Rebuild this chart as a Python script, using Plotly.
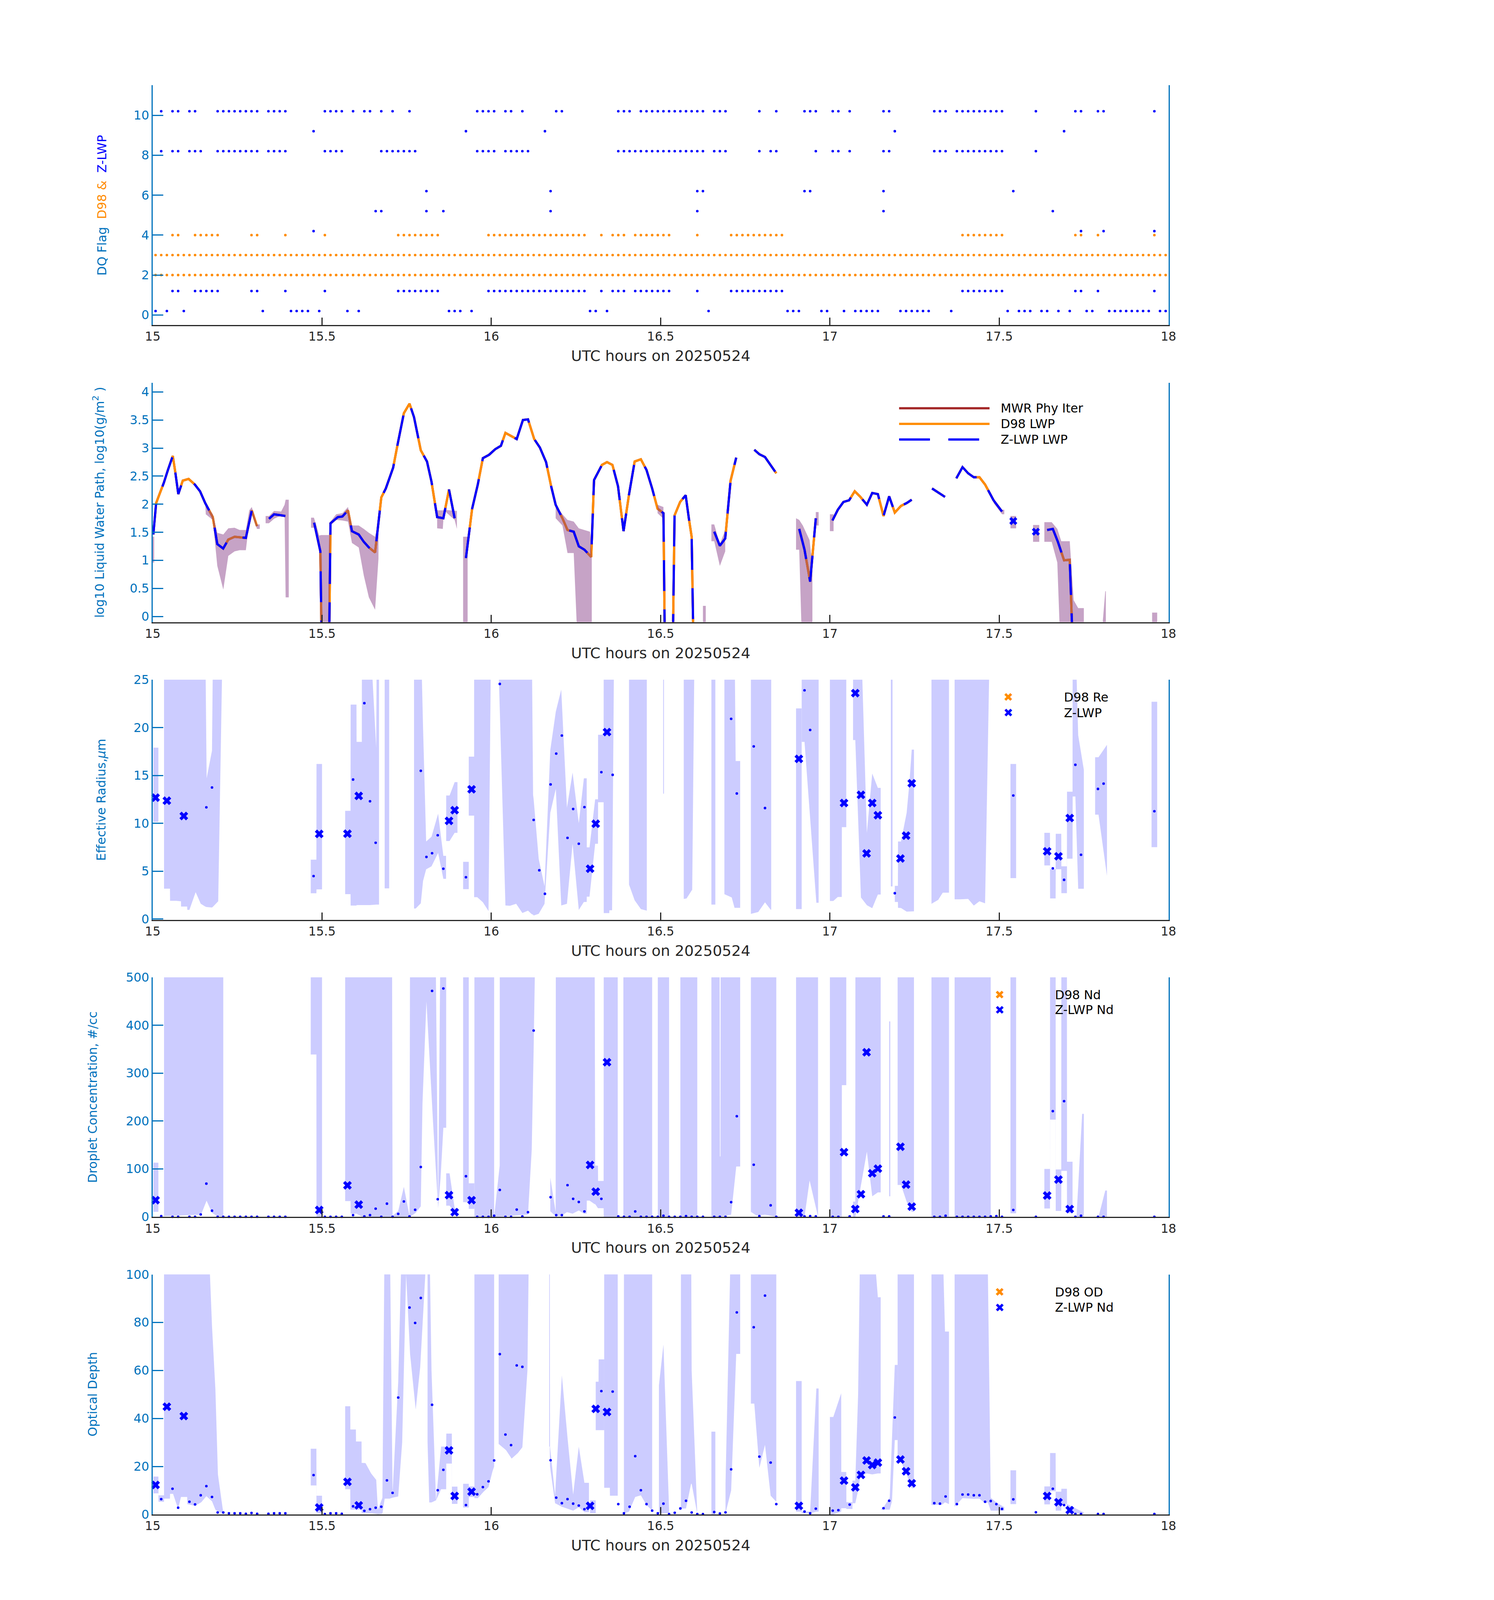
import plotly.graph_objects as go

T0 = 15.0  # start hour (UTC) of the 20250524 window
W, H = 3825, 6000

# ================= Panel 1 : DQ flags (one-minute sample indices, t = 15 + (i+0.5)/60) =================
n_samples = 180
zlwp_flag10 = [1,3,4,6,7,11,12,13,14,15,16,17,18,20,21,22,23,30,31,32,33,35,37,38,40,42,45,57,58,59,60,62,63,65,71,72,
               82,83,84,86,87,88,89,90,91,92,93,94,95,96,97,99,100,101,107,110,115,116,117,120,121,123,129,130,
               138,139,140,142,143,144,145,146,147,148,149,150,156,163,164,167,168,177]
zlwp_flag9 = [28,55,69,131,161]
zlwp_flag8 = [1,3,4,6,7,8,11,12,13,14,15,16,17,18,20,21,22,23,30,31,32,33,40,41,42,43,44,45,46,57,58,59,60,62,63,64,65,66,
              82,83,84,85,86,87,88,89,90,91,92,93,94,95,96,97,99,100,101,107,109,110,117,120,121,123,129,130,
              138,139,140,142,143,144,145,146,147,148,149,150,156]
zlwp_flag6 = [48,70,96,97,115,116,129,152]
zlwp_flag5 = [39,40,48,51,70,96,129,159]
zlwp_flag4 = [28,164,168,177]
zlwp_flag1 = [3,4,7,8,9,10,11,17,18,23,30,43,44,45,46,47,48,49,50,59,60,61,62,63,64,65,66,67,68,69,70,71,72,73,74,75,76,
              79,81,82,83,85,86,87,88,89,90,91,96,102,103,104,105,106,107,108,109,110,111,143,144,145,146,147,148,149,150,
              163,164,167,177]
zlwp_flag0 = [0,2,5,19,24,25,26,27,29,34,36,52,53,54,56,77,78,80,98,112,113,114,118,119,122,124,125,126,127,128,
              132,133,134,135,136,137,141,151,153,154,155,157,158,160,162,165,166,169,170,171,172,173,174,175,176,178,179]
d98_flag2 = list(range(n_samples))
d98_flag3 = list(range(n_samples))
d98_flag4 = [3,4,7,8,9,10,11,17,18,23,30,43,44,45,46,47,48,49,50,59,60,61,62,63,64,65,66,67,68,69,70,71,72,73,74,75,76,
             79,81,82,83,85,86,87,88,89,90,91,96,102,103,104,105,106,107,108,109,110,111,143,144,145,146,147,148,149,150,
             163,164,167,177]
zlwp_flag_rows = {10: zlwp_flag10, 9: zlwp_flag9, 8: zlwp_flag8, 6: zlwp_flag6, 5: zlwp_flag5,
                  4: zlwp_flag4, 1: zlwp_flag1, 0: zlwp_flag0}
d98_flag_rows = {2: d98_flag2, 3: d98_flag3, 4: d98_flag4}
zlwp_row_offset = 0.2

# ================= Panel 2 : LWP (minute-from-15:00, log10 g/m2); None = gap, -1 = below axis =================
lwp_line = [
    (0.1,1.46),(0.6,2.02),(1.35,2.22),(1.96,2.38),(2.69,2.61),(3.55,2.86),(3.98,2.58),(4.53,2.18),(5.32,2.42),(6.36,2.45),
    (7.46,2.35),(8.38,2.23),(9.3,2.02),(10.64,1.77),(11.44,1.29),(12.48,1.21),(13.39,1.37),(14.5,1.42),(16.5,1.40),
    (17.55,1.89),(18.47,1.61), None,
    (20.6,1.74),(21.5,1.82),(23.5,1.79), None,
    (28.6,1.67),(29.2,1.39),(29.7,1.16),(30.0,-1),(31.2,-1),(31.5,1.66),(32.8,1.77),(33.6,1.78),(34.6,1.89),(35.3,1.52),
    (36.5,1.46),(37.4,1.33),(38.3,1.23),(39.4,1.14),(40.0,1.69),(40.5,2.12),(41.3,2.28),(42.0,2.50),(42.6,2.65),(43.4,3.07),
    (44.5,3.62),(45.5,3.79),(46.3,3.55),(47.5,2.96),(48.6,2.76),(49.4,2.40),(50.4,1.77),(51.5,1.75),(52.5,2.26),(53.5,1.75), None,
    (55.5,1.04),(56.6,1.92),(57.6,2.35),(58.5,2.82),(59.6,2.88),(60.7,2.98),(61.7,3.04),(62.5,3.27),(64.5,3.16),(65.6,3.50),
    (66.5,3.51),(67.6,3.16),(68.6,3.01),(69.7,2.75),(70.6,2.32),(71.4,1.99),(72.6,1.75),(73.5,1.54),(74.6,1.51),(75.5,1.25),
    (76.5,1.19),(77.7,1.06),(78.2,2.43),(79.6,2.70),(80.5,2.75),(81.46,2.70),(82.45,2.32),(83.43,1.52),(84.41,2.18),(85.4,2.76),
    (86.5,2.80),(87.5,2.61),(88.5,2.28),(89.46,1.92),(90.5,1.84),(90.8,-1),(92.1,-1),(92.47,1.80),(93.46,2.04),(94.44,2.16),
    (95.0,1.75),(95.5,1.42),(95.9,-1), None,
    (99.5,1.51),(100.5,1.26),(101.45,1.39),(101.9,1.89),(102.4,2.42),(103.4,2.83), None,
    (106.6,2.97),(107.5,2.89),(108.5,2.84),(109.5,2.70),(110.5,2.55), None,
    (114.56,1.56),(115.5,1.19),(116.5,0.62),(117.5,1.75), None,
    (120.45,1.71),(121.4,1.90),(122.4,2.04),(123.4,2.07),(124.4,2.23),(125.4,2.13),(126.55,1.99),(127.5,2.20),(128.5,2.18),
    (129.5,1.79),(130.5,2.14),(131.5,1.85),(132.6,1.97),(133.6,2.02),(134.5,2.08), None,
    (138.1,2.28),(139.5,2.18),(140.4,2.13), None,
    (142.4,2.46),(143.5,2.66),(144.5,2.55),(145.5,2.48),(146.5,2.48),(147.5,2.35),(149.0,2.07),(150.5,1.87), None,
    (158.5,1.54),(159.5,1.56),(160.4,1.33),(161.5,1.00),(162.5,1.01),(163.2,-1),
]
lwp_single_m = [152.5, 156.5]
lwp_single_v = [1.70, 1.51]
lwp_band = [
    (0.0,0.96,1.42),(0.25,0.96,1.42), None,
    (9.3,2.02,2.02),(9.4,1.82,1.99),(10.64,1.72,1.82),(11.44,0.90,1.49),(12.5,0.48,1.46),(13.39,1.08,1.57),(14.5,1.16,1.58),
    (15.4,1.18,1.54),(16.5,1.18,1.54),(17.1,1.69,1.89),(17.55,1.82,1.95),(18.47,1.56,1.64),(18.96,1.56,1.64), None,
    (20.0,1.66,1.79),(20.6,1.66,1.79),(21.5,1.74,1.88),(22.75,1.80,1.87),(23.36,1.82,1.99),(23.55,0.34,2.08),(24.1,0.34,2.08), None,
    (28.05,1.58,1.76),(28.56,1.58,1.76),(29.0,1.46,1.62),(29.5,1.16,1.44),(29.8,-1,1.45),(31.2,-1,1.45),(31.5,1.62,1.69),
    (32.5,1.72,1.82),(33.6,1.71,1.84),(34.6,1.69,1.95),(35.3,1.31,1.62),(36.5,1.23,1.62),(37.4,0.73,1.56),(38.3,0.34,1.49),
    (39.4,0.12,1.42),(40.0,1.03,1.69), None,
    (50.4,1.57,1.89),(51.4,1.56,1.89),(51.6,1.89,1.90),(53.5,1.72,1.88),(53.9,1.56,1.88), None,
    (55.0,-1,1.42),(55.8,-1,1.42), None,
    (71.4,1.75,1.99),(72.6,1.62,1.82),(73.5,1.13,1.72),(74.6,1.13,1.69),(75.5,-1,1.57),(77.5,-1,1.51),(77.8,-1,1.06), None,
    (89.46,1.84,1.99),(90.5,1.74,1.95), None,
    (97.5,-1,0.19),(98.0,-1,0.19), None,
    (99.0,1.34,1.64),(99.5,1.34,1.64),(100.5,0.90,1.29),(101.45,1.16,1.54), None,
    (114.0,1.19,1.75),(114.56,1.19,1.72),(115.2,-1,1.62),(116.4,-1,1.36),(116.9,-1,0.9), None,
    (117.5,1.62,1.86),(118.0,1.62,1.86), None,
    (120.0,1.52,1.82),(120.65,1.52,1.82), None,
    (149.0,2.02,2.08),(150.5,1.82,1.90),(150.9,1.82,1.90), None,
    (152.0,1.57,1.79),(153.0,1.57,1.79), None,
    (156.0,1.33,1.63),(157.1,1.33,1.63), None,
    (158.0,1.33,1.68),(159.3,1.33,1.68),(160.3,0.96,1.56),(161.0,-1,1.34),(162.5,-1,1.34),(163.2,-1,0.29),(164.0,-1,0.15),(165.0,-1,0.15), None,
    (167.6,-1,-1),(168.8,-1,0.45),(168.9,-1,0.45), None,
    (177.1,-1,0.07),(178.0,-1,0.07),
]

# ================= Panels 3-5 : retrievals =================
good_idx = [0,2,5,29,34,36,52,53,56,77,78,80,114,122,124,125,126,127,128,132,133,134,158,160,162]
re_good = [12.68,12.36,10.76,8.89,8.91,12.86,10.25,11.37,13.55,5.25,9.95,19.53,16.73,12.12,23.6,12.97,6.85,12.12,10.84,
           6.32,8.71,14.18,7.07,6.55,10.55]
nd_good = [34.8,None,None,14.3,65.8,25.5,45.3,9.7,34.8,108.4,52.6,322.8,8.5,135,16.3,47.2,343.6,90.9,100.6,146.3,67.3,
           21.3,44.5,77.8,16.3]
od_good = [12.3,44.9,41.0,2.9,13.6,3.8,26.7,7.7,9.5,3.6,44.0,42.7,3.6,14.1,11.3,16.5,22.5,20.6,21.6,22.9,18.0,13.0,7.7,5.1,1.8]

re_dot_idx = [9,10,28,35,37,38,39,47,48,49,50,51,55,61,67,68,69,70,71,72,73,74,75,76,79,81,102,103,106,108,115,116,131,
              152,159,161,163,164,167,168,177]
re_dot_val = [11.67,13.74,4.48,14.57,22.55,12.30,7.96,15.48,6.48,6.87,8.75,5.25,4.36,24.56,10.35,5.09,2.63,14.06,17.28,
              19.17,8.47,11.49,7.86,11.69,15.34,15.06,20.91,13.11,18.03,11.59,23.89,19.75,2.69,12.90,5.29,4.09,16.11,6.71,
              13.59,14.14,11.26]

nd_dot_idx = [1,3,4,6,7,8,9,10,11,12,13,14,15,16,17,18,20,21,22,23,30,31,32,33,35,37,38,39,40,41,42,43,44,45,46,47,49,50,51,
              55,57,58,59,60,61,62,63,64,65,66,67,70,71,72,73,74,75,76,79,82,83,84,85,86,87,88,89,90,91,92,93,94,95,96,97,
              99,100,101,102,103,106,107,109,110,115,116,117,120,121,123,129,130,138,139,140,142,143,144,145,146,147,148,
              149,150,152,156,159,161,163,164,167,168,177]
nd_dot_val = [1.5,0,0,0,0,5,69.3,12.8,0,0,0,0,0,0,0,0,0,0,0,0,0,0,0,0,3.5,0.8,3.5,17,0,27.5,0,6.2,32.1,0.8,14.7,104.1,
              471.7,36.8,476.8,84.8,0,0,0,2.3,56.1,0,0,15.1,0.8,9.7,388.9,41.0,3.5,3.5,66.2,37.5,31.0,11.2,37.5,0.8,0,0,
              11.2,0,0,0,0,2.3,0,0,0,1.5,0,0,0,0,0,0,30.6,210.1,108.7,1.5,24.0,0,0.8,1.5,0.8,0,0,0.8,0.8,0.8,0,0,2.3,
              0,0,0,0,0,0,0.8,1.5,0,14.3,0,220.6,241.5,0,2.3,0,0,0]

od_dot_idx = [1,3,4,6,7,8,9,10,11,12,13,14,15,16,17,18,20,21,22,23,28,30,31,32,33,35,37,38,39,40,41,42,43,45,46,47,49,50,51,
              55,57,58,59,60,61,62,63,64,65,70,71,72,73,74,75,76,79,81,82,83,84,85,86,87,88,89,90,91,92,93,94,95,96,97,
              99,100,101,102,103,106,107,108,109,110,115,116,117,120,121,123,129,130,131,138,139,140,142,143,144,145,146,
              147,148,149,150,152,156,159,161,163,164,167,168,177]
od_dot_val = [6.4,10.7,2.8,5.3,4.2,8.0,11.8,7.3,0.8,0.8,0.5,0.5,0.5,0.3,0.6,0.3,0.3,0.5,0.5,0.5,16.4,0.15,0.5,0.5,0.3,
              3.4,1.5,2.2,2.8,3.2,14.2,9.0,48.7,86.2,79.8,90.2,45.7,10.1,18.6,3.9,8.4,11.4,13.8,22.5,66.8,33.3,28.9,62.1,
              61.5,22.6,7.0,4.7,6.4,4.5,3.7,2.2,51.4,51.2,4.3,0.5,3.2,24.3,10.1,4.3,1.6,0.5,4.5,0.15,0.7,2.5,5.7,0.8,
              0.15,0.15,1.0,0.4,0.85,18.8,84.2,78.0,24.1,91.2,21.6,4.3,1.2,0.5,2.4,1.6,1.8,4.1,2.6,5.7,40.4,4.7,4.5,7.5,
              4.3,8.3,8.3,8.0,8.0,5.3,5.6,4.3,2.3,6.3,0.9,10.7,3.9,0.2,0.2,0.2,0.2,0.2]

re_band = [
    (0.1,10.15,17.9),(1.0,10.15,17.9), None,
    (2.0,3.17,30),(3.05,3.17,30),(3.07,1.9,30),(4.1,1.9,30),(5.0,1.85,30),(5.02,1.3,30),(6.1,1.3,30),(6.12,0.95,30),
    (6.5,0.95,30),(7.6,2.8,30),(8.5,1.6,30),(9.3,1.3,30),(9.55,1.25,14.7),(10.5,1.2,17.6),(10.7,1.3,30),(11.6,1.85,30),(12.35,28,30), None,
    (28.0,2.69,6.2),(29.0,2.69,6.2),(29.02,3.1,16.2),(30.0,3.1,16.2), None,
    (34.1,2.6,11.3),(35.05,2.6,11.3),(35.07,1.4,22.4),(36.1,1.4,22.4),(36.12,1.45,18.5),(37.05,1.45,18.5),(37.07,1.45,30),
    (38.5,1.45,30),(39.6,1.5,17.9),(39.7,1.5,30),(40.1,1.5,30), None,
    (41.1,3.2,30),(41.9,3.2,30), None,
    (46.3,1.1,30),(46.6,1.1,30),(47.5,1.64,30),(47.9,3.97,20),(48.45,5.19,8.1),(49.4,5.5,8.6),(50.57,6.9,11.0),(51.5,4.2,6.6),(51.98,4.2,6.6), None,
    (52.0,8.15,12.9),(52.6,8.15,12.9),(53.5,9.0,14.3),(54.0,9.0,14.3), None,
    (55.0,3.12,5.97),(56.0,3.12,5.97), None,
    (56.0,10.8,16.96),(57.0,10.8,16.96), None,
    (56.95,2.28,30),(57.5,2.28,30),(58.5,1.75,30),(59.5,0.83,30),(59.93,28,30), None,
    (61.32,25.5,30),(62.5,1.41,30),(63.3,1.38,30),(64.4,1.58,30),(65.5,0.63,30),(66.5,0.87,30),(67.16,0.5,30),(67.4,0.45,12.97),
    (67.5,0.36,12.5),(68.4,0.54,6.27),(69.43,1.58,3.42),(70.45,11.1,17.66),(71.43,13.6,21.68),(72.39,1.41,23.97),(73.4,1.58,11.63),
    (74.4,7.86,15.3),(75.5,0.94,10.0),(76.4,1.78,14.7),(76.9,1.78,14.7),(76.92,2.33,7.48),(77.4,2.33,7.48),(78.4,7.86,12.5),
    (78.9,7.86,12.5),(78.92,12.2,19.25),(79.9,12.2,19.25),(79.92,0.62,30),(80.9,0.62,30),(80.92,0.91,30),(81.4,0.91,30),(81.75,28,30), None,
    (84.4,3.6,30),(85.4,1.95,30),(86.5,1.03,30),(87.55,0.87,30), None,
    (90.45,13.1,30),(90.6,13.1,30), None,
    (94.1,2.1,30),(94.6,2.15,30),(95.6,3.06,30),(96.0,28,30), None,
    (99.0,1.5,30),(99.7,1.5,30), None,
    (101.3,2.6,30),(102.6,2.25,30),(103.1,1.17,30),(103.3,1.17,16.5),(104.1,1.17,16.5), None,
    (106.0,0.53,30),(107.3,0.73,30),(108.5,1.74,30),(109.5,0.97,30),(109.6,0.97,30), None,
    (114.0,1.03,22.0),(115.0,1.03,22.0), None,
    (115.0,18.5,30),(115.5,18.5,30),(117.6,1.7,30),(118.0,1.7,30), None,
    (120.0,1.88,30),(120.6,1.88,30),(121.4,2.3,30),(122.1,2.3,30),(122.12,9.6,30),(122.9,9.6,30), None,
    (124.1,18.7,30),(124.5,18.7,30),(125.0,10.9,30),(125.5,2.25,30),(126.55,1.44,9.0),(127.5,1.13,15.2),(128.5,2.55,13.7),(129.0,2.55,13.7), None,
    (130.8,3.4,30),(131.1,3.4,30), None,
    (131.5,1.78,3.46),(132.05,1.78,3.46),(132.07,1.17,8.1),(132.6,1.15,8.1),(133.6,0.77,11.1),(134.1,0.8,14.3),(134.5,0.8,17.7),(134.9,0.8,17.7), None,
    (138.0,1.58,30),(139.2,2.0,30),(140.0,2.75,30),(141.1,2.75,30), None,
    (142.1,2.05,30),(143.1,2.05,30),(144.5,2.1,30),(145.5,1.4,30),(146.5,1.85,30),(147.5,1.64,30),(147.8,11.7,30),(148.3,28,30), None,
    (152.0,4.27,16.2),(153.0,4.27,16.2), None,
    (158.0,5.6,9.0),(159.0,5.6,9.0),(159.02,2.15,5.2),(160.0,2.15,5.2),(160.02,5.2,8.9),(161.0,5.2,8.9),(161.02,2.7,5.5),
    (162.0,2.7,5.5),(162.02,6.3,13.3),(163.0,6.3,13.3),(163.02,12.8,30),(163.5,12.8,30),(164.0,3.16,19.2),(165.0,3.16,15.6), None,
    (167.0,10.9,16.9),(167.6,10.9,16.9),(169.1,4.5,18.2), None,
    (177.0,7.5,22.7),(178.0,7.5,22.7),
]
nd_band = [
    (0.1,10.4,113),(1.0,10.4,113), None,
    (2.0,1.5,600),(8.56,4.6,600),(9.54,33.7,600),(10.5,8.5,600),(11.4,1.5,600),(12.5,0,600), None,
    (28.0,339,600),(29.0,339,600),(29.02,0,600),(30.0,0,600), None,
    (34.1,33,600),(35.05,33,600),(35.07,6.6,600),(36.1,6.6,600),(37.1,0,600),(42.4,0,600),(42.5,0,2),(43.5,0,12.4),(44.5,0,62.7),
    (45.5,0,2),(45.6,0,600),(46.6,8.5,600),(47.5,22,600),(47.8,237,600),(48.5,450,600),(49.66,200,600),(50.1,112,600),
    (50.57,18,18),(51.0,80,600),(51.5,186,600),(52.0,186,600), None,
    (52.0,23.3,90.9),(52.6,23.3,90.9),(53.5,10,18.3),(54.0,10,18.3), None,
    (55.0,30.7,600),(56.0,30.7,600), None,
    (56.0,16.6,70.1),(57.0,16.6,70.1), None,
    (57.0,0,600),(60.5,0,600), None,
    (60.5,0,0),(61.48,0,107),(61.5,0,600),(66.5,5,600),(67.16,140,600),(67.5,350,600),(67.84,600,600), None,
    (70.45,11.6,82),(71.4,1.6,10),(71.43,1.6,600),(72.39,1.7,600),(73.4,9.9,600),(74.4,6.6,600),(75.5,13.3,600),(76.4,6.6,600),
    (76.9,6.6,600),(76.92,34,600),(77.4,34,600),(78.3,26.6,600),(78.4,26.6,107),(78.9,18,107),(78.92,18,75),(79.9,18,75),
    (79.92,0,600),(82.4,0,600), None,
    (83.4,0,600),(88.5,0,600), None,
    (89.5,0,600),(91.5,0,600), None,
    (93.5,0,600),(96.5,0,600), None,
    (99.0,0,600),(100.45,0,600),(100.5,0,126),(100.6,0,126),(100.65,0,600),(102.5,4.6,600),(103.4,105,600),(104.1,105,600), None,
    (106.0,10.4,600),(107.0,2.7,600),(108.5,4.6,600),(110.5,0,600), None,
    (114.0,0,600),(115.5,0,600),(116.4,76,600),(117.9,0,600), None,
    (120.0,0,600),(122.1,0,600),(122.12,275,600),(122.9,275,600), None,
    (124.1,0,31.7),(124.5,0,31.7),(124.52,0,600),(126.55,136,600),(127.5,43,600),(128.5,51,600),(129.0,51,600), None,
    (130.5,43,408),(130.7,43,408), None,
    (132.0,66.6,600),(132.6,66.6,600),(133.6,31.7,600),(134.5,10.4,600),(134.9,10.4,600), None,
    (138.0,0,600),(141.1,0,600), None,
    (142.1,0,600),(148.5,0,600), None,
    (152.0,7.4,600),(153.0,7.4,600), None,
    (158.0,17.4,100),(159.0,17.4,100),(159.02,203,600),(160.0,203,600),(160.02,12.4,99),(161.0,12.4,99),(161.02,96,600),
    (162.0,96,600),(162.02,7.4,115),(163.0,7.4,115), None,
    (163.7,0,0),(164.7,0,215),(165.0,0,215), None,
    (167.6,0,0),(168.8,0,55),(169.1,0,55),
]
od_band = [
    (0.1,8.8,15.8),(1.0,8.8,15.8),(1.02,5.3,8.0),(2.0,5.3,8.0), None,
    (2.0,6.6,120),(3.05,6.6,120),(3.07,8.6,120),(3.6,8.6,120),(4.1,5.1,120),(4.5,2.4,120),(5.0,7.3,120),(6.1,7.3,120),
    (6.12,4.3,120),(7.5,3.6,120),(8.6,5.1,120),(9.5,7.6,120),(9.8,7.0,120),(10.5,5.5,78.5),(11.1,2.0,52.2),(11.55,1.2,16.7),
    (12.0,0.8,9.0),(12.5,0.6,1.2), None,
    (28.0,12.1,27.4),(29.0,12.1,27.4),(29.02,0.5,7.8),(30.0,0.5,7.8), None,
    (34.1,10.5,45.1),(35.0,10.5,45.1),(35.02,2.0,35.4),(36.0,2.0,35.4),(36.02,2.0,30.4),(37.0,2.0,30.4),(37.02,0.5,21.5),
    (37.7,0.5,21.4),(38.7,0.5,17.1),(39.6,0.2,14.4),(39.9,0.1,2.0),(40.7,0.3,7.0),(41.1,6.6,120),(42.0,6.6,120),(42.5,7.0,9.0),
    (43.5,7.5,55.3),(44.2,30,120),(44.9,100,120),(45.6,66.9,120),(46.6,43.7,120),(47.4,61.5,120),(48.3,100,120), None,
    (48.7,30,120),(49.0,5.0,120),(49.4,5.0,60),(50.2,5.9,5.9),(51.1,10.5,28.3),(52.0,10.5,28.3),(52.02,21.2,33.7),(53.0,21.2,33.7),
    (53.02,4.4,11.6),(54.0,4.4,11.6), None,
    (55.0,2.9,12.8),(56.0,2.9,12.8),(56.02,7.3,11.7),(57.0,7.3,11.7), None,
    (57.0,6.8,120),(57.6,6.8,120),(58.6,9.4,120),(59.5,11.4,120),(60.2,17.9,120),(60.5,20,120), None,
    (61.3,29.4,120),(62.6,26.8,120),(63.6,23.3,120),(64.7,25.6,120),(65.5,28,120),(66.4,60,120),(66.6,100,120), None,
    (70.25,28.3,120),(70.35,28.3,120),(70.4,20,28.3),(71.3,4.7,8),(72.5,3.2,58),(73.5,2.4,32),(74.5,1.6,8.3),(75.5,3.0,28.3),
    (76.5,1.0,13.2),(77.3,1.0,13.2), None,
    (77.5,0.5,5.9),(78.5,0.5,5.9), None,
    (78.5,35.1,55.3),(79.0,35.1,55.3),(79.02,35.1,64.6),(80.0,35.1,64.6), None,
    (80.0,11.1,120),(81.0,11.1,120),(81.02,7.8,120),(82.4,7.8,120), None,
    (83.5,0.5,120),(84.4,1.2,120),(85.5,7.3,120),(86.5,8.0,120),(87.5,3.9,120),(88.5,1.6,120), None,
    (89.7,0.5,53.8),(90.5,0.5,70.8),(91.5,0.5,2), None,
    (93.6,2.5,120),(94.5,2.5,120),(95.4,12.8,120),(95.5,12.8,60),(96.5,0.3,1.0), None,
    (99.0,0,34.5),(99.7,0,34.5), None,
    (101.5,0.5,12.8),(102.5,10,120),(103.4,66.9,120),(104.1,66.9,120), None,
    (106.0,46.2,120),(106.6,46.2,120),(107.5,19.4,120),(108.5,29.0,120),(109.5,7.8,120),(110.5,5.3,120), None,
    (114.0,1.2,55.6),(115.0,1.2,55.6), None,
    (115.0,0.5,1.2),(116.5,0.5,1.2),(117.6,1.2,52.5),(118.0,1.2,52.5), None,
    (120.0,0,40.6),(120.6,0,40.6),(122.0,1.2,50.5),(122.02,2.6,17.7),(122.9,2.6,17.7),(122.92,2.3,5.1),(124.0,2.3,5.1), None,
    (124.0,4.7,14.1),(124.5,4.7,14.1),(125.0,10,50),(125.4,16,120),(126.55,17.1,120),(127.5,16.7,120),(128.5,17.1,90.5),(129.0,17.1,90.5), None,
    (129.0,2.0,2.0),(129.5,2.0,3.0),(130.6,2.0,7.0),(131.0,5.5,32),(131.5,31,62.3),(132.0,31,62.3), None,
    (132.0,24.4,120),(132.6,22.1,120),(133.6,16.7,120),(134.5,10.9,120),(134.9,10.9,120), None,
    (138.0,3.9,120),(139.9,4.1,120),(140.4,5.1,76.2),(141.1,4.3,76.2), None,
    (142.1,3.2,120),(143.5,6.8,120),(145.5,6.5,120),(146.5,6.6,120),(147.5,4.7,120),(148.0,5.0,100),(148.5,1.6,7.0),
    (149.5,1.6,5.0),(150.9,1.6,3.0), None,
    (152.0,4.3,18.4),(153.0,4.3,18.4), None,
    (158.0,4.2,11.7),(159.0,4.2,11.7),(159.02,9.7,25.6),(160.0,9.7,25.6),(160.02,1.6,9.5),(161.0,1.6,9.5),(161.02,4.3,10.7),
    (162.0,4.3,10.7),(162.02,0.5,4.3),(165.0,0.3,0.8),
]

x_tick_vals = [15, 15.5, 16, 16.5, 17, 17.5, 18]
x_tick_text = ["15", "15.5", "16", "16.5", "17", "17.5", "18"]

# ================= styling =================
FONT = "DejaVu Sans"
AX_BLUE = "#0072BD"
DARK = "#262626"
BLUE = "#0000FF"
ORANGE = "#FF8C00"
BROWN = "#A52A2A"
BAND_LWP = "rgba(128,51,128,0.45)"
BAND_Z = "#CCCCFF"


def t_idx(idx):
    return [T0 + (i + 0.5) / 60.0 for i in idx]


def line_xy(pts):
    xs, ys = [], []
    for p in pts:
        if p is None:
            xs.append(None); ys.append(None)
        else:
            xs.append(T0 + p[0] / 60.0); ys.append(p[1])
    return xs, ys


def band_xy(pts):
    segs, cur = [], []
    for p in pts:
        if p is None:
            if cur:
                segs.append(cur)
            cur = []
        else:
            cur.append(p)
    if cur:
        segs.append(cur)
    out = []
    for s in segs:
        xs = [T0 + m / 60.0 for m, lo, hi in s] + [T0 + m / 60.0 for m, lo, hi in reversed(s)]
        ys = [hi for m, lo, hi in s] + [lo for m, lo, hi in reversed(s)]
        out.append((xs + [xs[0]], ys + [ys[0]]))
    return out


fig = go.Figure()

# ---- Panel 1
for flag, idx in d98_flag_rows.items():
    fig.add_trace(go.Scatter(x=t_idx(idx), y=[flag] * len(idx), mode="markers", xaxis="x", yaxis="y",
                             marker=dict(color=ORANGE, size=8), cliponaxis=False, showlegend=False))
for flag, idx in zlwp_flag_rows.items():
    fig.add_trace(go.Scatter(x=t_idx(idx), y=[flag + zlwp_row_offset] * len(idx), mode="markers", xaxis="x", yaxis="y",
                             marker=dict(color=BLUE, size=8), cliponaxis=False, showlegend=False))

# ---- Panel 2
lx, ly = line_xy(lwp_line)
fig.add_trace(go.Scatter(x=lx, y=ly, mode="lines", xaxis="x2", yaxis="y2",
                         line=dict(color=BROWN, width=7), showlegend=False))
fig.add_trace(go.Scatter(x=lx, y=ly, mode="lines", xaxis="x2", yaxis="y2",
                         line=dict(color=ORANGE, width=7), showlegend=False))
for bx, by in band_xy(lwp_band):
    fig.add_trace(go.Scatter(x=bx, y=by, mode="lines", fill="toself", fillcolor=BAND_LWP, line=dict(width=0),
                             xaxis="x2", yaxis="y2", showlegend=False, hoverinfo="skip"))
fig.add_trace(go.Scatter(x=lx, y=ly, mode="lines", xaxis="x2", yaxis="y2",
                         line=dict(color=BLUE, width=7, dash="79px,47px"), showlegend=False))
fig.add_trace(go.Scatter(x=[T0 + m / 60.0 for m in lwp_single_m], y=lwp_single_v, mode="markers", xaxis="x2", yaxis="y2",
                         marker=dict(color=BLUE, size=22, symbol="x"), showlegend=False))

# ---- Panels 3-5
for k, (band, dot_idx, dot_val, good_val) in enumerate([
        (re_band, re_dot_idx, re_dot_val, re_good),
        (nd_band, nd_dot_idx, nd_dot_val, nd_good),
        (od_band, od_dot_idx, od_dot_val, od_good)]):
    xa, ya = "x%d" % (k + 3), "y%d" % (k + 3)
    for bx, by in band_xy(band):
        fig.add_trace(go.Scatter(x=bx, y=by, mode="lines", fill="toself", fillcolor=BAND_Z, line=dict(width=0),
                                 xaxis=xa, yaxis=ya, showlegend=False, hoverinfo="skip"))
    fig.add_trace(go.Scatter(x=t_idx(dot_idx), y=dot_val, mode="markers", xaxis=xa, yaxis=ya,
                             marker=dict(color=BLUE, size=8), cliponaxis=False, showlegend=False))
    fig.add_trace(go.Scatter(x=t_idx(good_idx), y=good_val, mode="markers", xaxis=xa, yaxis=ya,
                             marker=dict(color=BLUE, size=24, symbol="x"), cliponaxis=False, showlegend=False))

# ---- axes
x_dom = [375 / W, 3003 / W]
panels = [  # (top px, bottom px, y range, y ticks)
    (296, 1203, [-0.5, 11.5], [0, 2, 4, 6, 8, 10], ["0", "2", "4", "6", "8", "10"]),
    (1421, 2327, [-0.1, 4.165], [0, 0.5, 1, 1.5, 2, 2.5, 3, 3.5, 4], ["0", "0.5", "1", "1.5", "2", "2.5", "3", "3.5", "4"]),
    (2545, 3453, [-0.08, 25], [0, 5, 10, 15, 20, 25], ["0", "5", "10", "15", "20", "25"]),
    (3671, 4577, [0, 500], [0, 100, 200, 300, 400, 500], ["0", "100", "200", "300", "400", "500"]),
    (4795, 5703, [0, 100], [0, 20, 40, 60, 80, 100], ["0", "20", "40", "60", "80", "100"]),
]
layout_axes = {}
for i, (top, bot, yr, yt, ytt) in enumerate(panels, start=1):
    sx = "" if i == 1 else str(i)
    layout_axes["xaxis" + sx] = dict(
        domain=x_dom, anchor="y" + sx, range=[15, 18], tickmode="array", tickvals=x_tick_vals, ticktext=x_tick_text,
        ticks="inside", ticklen=28, tickwidth=2.5, tickcolor=DARK, showline=True, linecolor=DARK, linewidth=2.5,
        mirror=False, showgrid=False, zeroline=False,
        tickfont=dict(family=FONT, size=38, color=DARK))
    layout_axes["yaxis" + sx] = dict(
        domain=[1 - bot / H, 1 - top / H], anchor="x" + sx, range=yr, tickmode="array", tickvals=yt, ticktext=ytt,
        ticksuffix="\u00a0", ticks="inside", ticklen=27, tickwidth=2.5, tickcolor=AX_BLUE, showline=True,
        linecolor=AX_BLUE, linewidth=2.5, mirror=True, showgrid=False, zeroline=False,
        tickfont=dict(family=FONT, size=38, color=AX_BLUE))

annotations = []
x_mid = (x_dom[0] + x_dom[1]) / 2
for top, bot, *_ in panels:
    annotations.append(dict(text="UTC hours on 20250524", x=x_mid, y=1 - (bot + 117) / H, xref="paper", yref="paper",
                            showarrow=False, xanchor="center", yanchor="middle",
                            font=dict(family=FONT, size=46, color=DARK)))
y_titles = [
    ("DQ Flag\u00a0\u00a0<span style='color:#FF8C00'>D98 &amp;</span>\u00a0\u00a0<span style='color:#0000FF'>Z-LWP</span>", 244),
    ("log10 Liquid Water Path, log10(g/m<sup>2</sup> )", 235),
    ("Effective Radius,<i>\u03bc</i>m", 242),
    ("Droplet Concentration, #/cc", 219),
    ("Optical Depth", 219),
]
for (txt, xpx), (top, bot, *_) in zip(y_titles, panels):
    annotations.append(dict(text=txt, x=xpx / W, y=1 - (top + bot) / 2 / H, xref="paper", yref="paper",
                            showarrow=False, textangle=-90, xanchor="center", yanchor="middle",
                            font=dict(family=FONT, size=46, color=AX_BLUE)))

# ---- hand-drawn legends (MATLAB style)
shapes = []
leg2 = [("MWR Phy Iter", BROWN, "solid", 1518), ("D98 LWP", ORANGE, "solid", 1577), ("Z-LWP LWP", BLUE, "79px,47px", 1636)]
for name, col, dash, ypx in leg2:
    shapes.append(dict(type="line", xref="paper", yref="paper", x0=2306 / W, x1=2540 / W, y0=1 - ypx / H, y1=1 - ypx / H,
                       line=dict(color=col, width=7, dash=dash)))
    annotations.append(dict(text=name, x=2567 / W, y=1 - ypx / H, xref="paper", yref="paper", showarrow=False,
                            xanchor="left", yanchor="middle", font=dict(family=FONT, size=38, color="#000000")))
leg_marks = [
    (2589, 2731, [("D98 Re", ORANGE, 2611), ("Z-LWP", BLUE, 2670)]),
    (2566, 2707, [("D98 Nd", ORANGE, 3737), ("Z-LWP Nd", BLUE, 3794)]),
    (2566, 2707, [("D98 OD", ORANGE, 4862), ("Z-LWP Nd", BLUE, 4920)]),
]
for mx, tx, items in leg_marks:
    for name, col, ypx in items:
        annotations.append(dict(text="\u2716", x=mx / W, y=1 - ypx / H, xref="paper", yref="paper", showarrow=False,
                                xanchor="center", yanchor="middle", font=dict(family=FONT, size=36, color=col)))
        annotations.append(dict(text=name, x=tx / W, y=1 - ypx / H, xref="paper", yref="paper", showarrow=False,
                                xanchor="left", yanchor="middle", font=dict(family=FONT, size=38, color="#000000")))

fig.update_layout(width=W, height=H, margin=dict(l=0, r=0, t=0, b=0), paper_bgcolor="white", plot_bgcolor="white",
                  showlegend=False, annotations=annotations, shapes=shapes, font=dict(family=FONT), **layout_axes)

# If the browser viewport turns out shorter than the 6000 px design, fit the whole figure into it.
fit_script = """
(function(){
  var gd = document.getElementById('{plot_id}');
  document.body.style.margin = '0px';
  var vh = window.innerHeight, vw = window.innerWidth;
  if (!gd || !vh || vh >= %d - 4) { return; }
  var s = vh / %d, sm = Math.sqrt(s);
  var L = gd.layout, upd = {height: vh, width: Math.min(%d, vw || %d)};
  (L.annotations || []).forEach(function(a, i){
    var f = (a.textangle === -90) ? s : sm;
    upd['annotations[' + i + '].font.size'] = a.font.size * f;
  });
  (L.shapes || []).forEach(function(sh, i){
    upd['shapes[' + i + '].line.width'] = sh.line.width * sm;
  });
  Object.keys(L).forEach(function(k){
    if (/^[xy]axis[0-9]*$/.test(k) && L[k].tickfont && L[k].tickfont.size) {
      upd[k + '.tickfont.size'] = L[k].tickfont.size * sm;
      if (k.charAt(0) === 'x') { upd[k + '.ticklen'] = L[k].ticklen * s; }
    }
  });
  Plotly.relayout(gd, upd).then(function(){
    var mi = [], mv = [], li = [], lv = [];
    gd.data.forEach(function(t, i){
      if (t.marker && typeof t.marker.size === 'number') { mi.push(i); mv.push(t.marker.size * sm); }
      if (t.mode === 'lines' && !t.fill && t.line && t.line.width) { li.push(i); lv.push(t.line.width * sm); }
    });
    var p = Promise.resolve();
    if (mi.length) { p = p.then(function(){ return Plotly.restyle(gd, {'marker.size': mv}, mi); }); }
    if (li.length) { p = p.then(function(){ return Plotly.restyle(gd, {'line.width': lv}, li); }); }
    return p;
  });
})();
"""  % (H, H, W, W)

fig.write_html("out.html", post_script=fit_script, config={"displayModeBar": False})
